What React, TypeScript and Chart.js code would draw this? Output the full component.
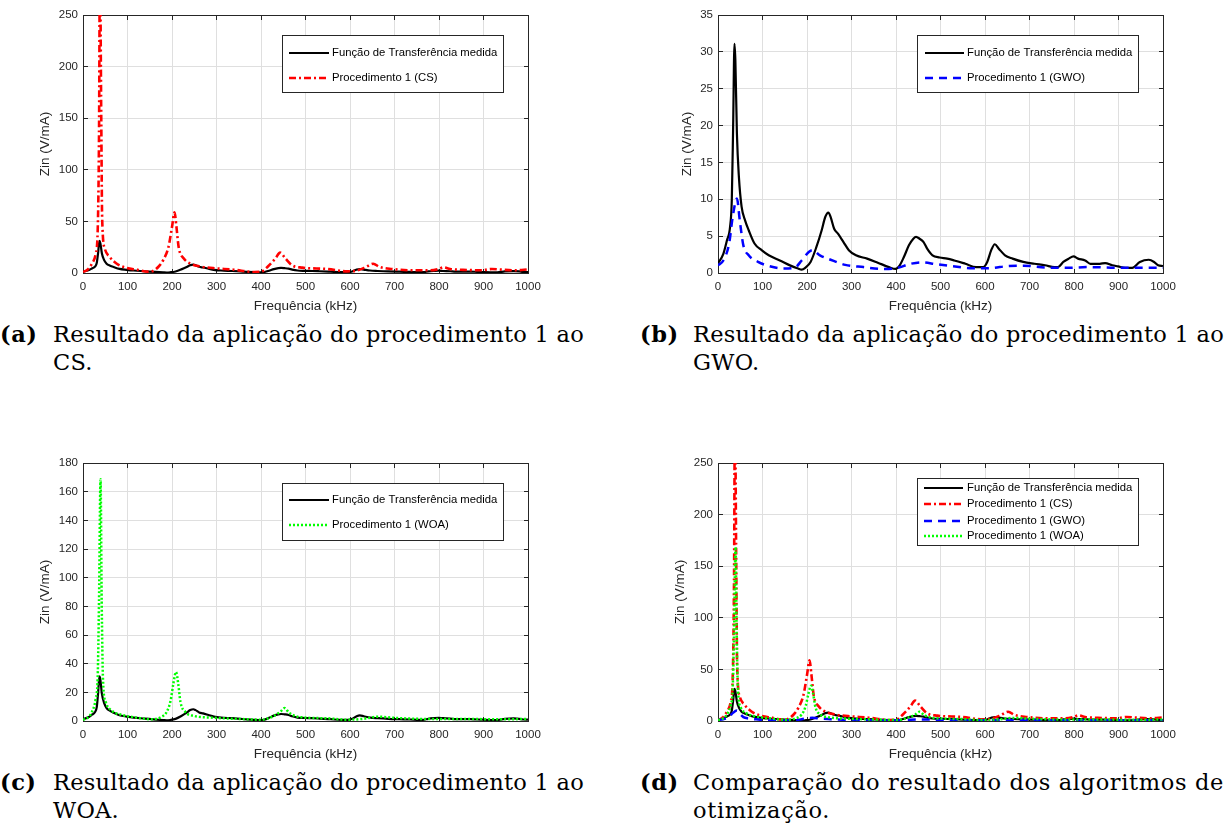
import React, { useEffect, useLayoutEffect, useRef, useState } from "react";
import { Chart, registerables } from "chart.js";

Chart.register(...registerables);

// ---------------- data (kHz / V/mA) ----------------
const measFreq = [0, 12, 20, 27, 31, 34, 37, 39, 42.5, 47, 53, 61, 69, 82, 98, 114, 139, 163, 180, 188, 196, 208, 221, 233, 241, 248, 253, 261, 270, 282, 294, 310, 335, 359, 384, 399, 408, 418, 429, 439, 445, 453, 462, 470, 482, 498, 515, 531, 556, 580, 596, 605, 614, 622, 631, 645, 662, 686, 711, 735, 756, 764, 776, 788, 799, 809, 825, 837, 858, 870, 886, 899, 915, 931, 948, 968, 980, 989, 1000];
const measZin = [1.3, 2.6, 4.4, 6.2, 9.9, 19.8, 31.1, 28.9, 18.9, 13, 9, 7.1, 5.8, 4.0, 3.1, 2.4, 1.7, 1.0, 0.6, 0.45, 0.7, 1.5, 3.5, 5.8, 7.6, 8.2, 7.6, 6.0, 5.3, 4.2, 3.1, 2.4, 1.95, 1.4, 0.8, 0.55, 1.0, 2.2, 3.75, 4.65, 4.9, 4.65, 4.2, 3.3, 2.4, 2.1, 1.95, 1.7, 1.25, 0.8, 0.8, 1.5, 3.1, 3.9, 3.3, 2.4, 1.95, 1.5, 1.25, 1.05, 0.8, 0.8, 1.5, 1.95, 2.25, 1.95, 1.7, 1.25, 1.25, 1.35, 1.05, 0.9, 0.7, 0.7, 1.5, 1.8, 1.5, 1.05, 0.95];

const csFreq = [0, 10, 20, 28.6, 33, 36, 38, 41, 43, 49, 60, 76, 99, 122, 145, 157, 169, 180, 192, 200, 205.7, 210, 215, 227, 242, 261, 292, 339, 385, 401, 416, 432, 443, 455, 470, 493, 548, 594, 617, 636, 652, 667, 694, 741, 780, 800, 810, 825, 864, 896, 919, 942, 973, 1000];
const csZin = [1, 3.2, 9, 18.7, 41, 135, 300, 151, 54, 23.6, 15.5, 9, 4.8, 3.2, 1.3, 1.9, 5.8, 12.3, 25, 44.6, 58.8, 44.6, 25, 13.9, 9, 6.5, 4.8, 3.2, 1.0, 1.3, 6.5, 13.9, 19.7, 13.9, 7.4, 5.2, 3.9, 1.6, 2.6, 5.8, 9, 5.8, 3.9, 2.6, 2.6, 3.9, 5.5, 3.9, 2.9, 2.6, 3.9, 3.2, 2.6, 3.5];

const gwoFreq = [0, 12, 25, 33, 42.5, 49, 57, 69, 90, 114, 147, 172, 188, 204, 212, 229, 253, 286, 327, 368, 400, 433, 457, 490, 523, 572, 605, 654, 686, 735, 784, 833, 899, 1000];
const gwoZin = [1.05, 1.7, 4, 7.6, 10.1, 7.1, 3.75, 2.4, 1.5, 0.95, 0.6, 0.7, 1.7, 2.85, 3.1, 2.4, 1.8, 1.1, 0.8, 0.55, 0.65, 1.25, 1.45, 1.2, 0.95, 0.65, 0.65, 0.95, 1.0, 0.75, 0.7, 0.8, 0.7, 0.7];

const woaFreq = [0, 10, 20, 28.6, 33, 36, 39.4, 42, 45, 51, 64, 91, 122, 153, 176, 188, 197, 203, 209, 214, 219, 230, 250, 292, 354, 401, 424, 443, 453, 463, 486, 548, 594, 626, 665, 695, 780, 857, 934, 1000];
const woaZin = [0.9, 2.1, 6.3, 15.6, 30.7, 84, 168.6, 84, 28.4, 13.3, 7.4, 4, 2.3, 1.2, 2.8, 6.3, 14.4, 26, 34.2, 26, 13.3, 6.3, 3.5, 2.3, 1.4, 0.9, 2.8, 6.3, 9, 5.8, 2.8, 1.9, 0.9, 1.4, 3, 2.3, 1.4, 1.4, 1.2, 1.4];

const X_MIN = 0;
const X_MAX = 1000;
const X_STEP = 100;
const X_TITLE = "Frequência (kHz)";
const Y_TITLE = "Zin (V/mA)";

const LABELS = {
  meas: "Função de Transferência medida",
  cs: "Procedimento 1 (CS)",
  gwo: "Procedimento 1 (GWO)",
  woa: "Procedimento 1 (WOA)",
};

const CAPTION_REPEAT = "Resultado da aplicação do procedimento 1 ao";
const CAPTION_D = "Comparação do resultado dos algoritmos de";

// ---------------- styles ----------------
type Key = "meas" | "cs" | "gwo" | "woa";
const SERIES: Record<Key, { freq: number[]; zin: number[] }> = {
  meas: { freq: measFreq, zin: measZin },
  cs: { freq: csFreq, zin: csZin },
  gwo: { freq: gwoFreq, zin: gwoZin },
  woa: { freq: woaFreq, zin: woaZin },
};
const STYLE: Record<Key, { color: string; width: number; dash: number[]; order: number }> = {
  meas: { color: "#000000", width: 2.2, dash: [], order: 3 },
  cs: { color: "#ff0000", width: 2.6, dash: [7, 3, 2, 3], order: 2 },
  gwo: { color: "#0000ff", width: 2.5, dash: [8, 6], order: 1 },
  woa: { color: "#00ff00", width: 2.5, dash: [2, 2], order: 0 },
};

const SANS = "'Liberation Sans', Arial, Helvetica, sans-serif";
const SERIF = "'DejaVu Serif', serif";
const AXIS_COLOR = "#262626";
const GRID_COLOR = "#dfdfdf";
const TICK_SIZE = 11.5;
const TITLE_SIZE = 13.5;
const LEGEND_SIZE = 11.3;
const CAP_SIZE = 22.5;
const CAP_LINE = 28;
const CAP_INDENT = 53;
const CAP_WIDTH = 531;

type Rect = { x: number; y: number; w: number; h: number };
interface PanelSpec {
  tag: string;
  canvas: Rect;
  plot: { l: number; t: number; r: number; b: number };
  yMax: number;
  yStep: number;
  series: Key[];
  legend: { box: Rect; rows: number[]; sampleX: [number, number]; textX: number };
  yTitleX: number;
  caption: { x: number; y: number; lines: [string, string] };
}

const PANELS: PanelSpec[] = [
  {
    tag: "(a)",
    canvas: { x: 20, y: 0, w: 540, h: 315 },
    plot: { l: 83, t: 15, r: 528, b: 273 },
    yMax: 250, yStep: 50, series: ["meas", "cs"],
    legend: { box: { x: 282, y: 35, w: 222, h: 58 }, rows: [53, 78], sampleX: [289, 329], textX: 332 },
    yTitleX: 45,
    caption: { x: 0, y: 320, lines: [CAPTION_REPEAT, "CS."] },
  },
  {
    tag: "(b)",
    canvas: { x: 650, y: 0, w: 540, h: 315 },
    plot: { l: 718, t: 15, r: 1163, b: 273 },
    yMax: 35, yStep: 5, series: ["meas", "gwo"],
    legend: { box: { x: 917, y: 35, w: 222, h: 58 }, rows: [53, 78], sampleX: [925, 964], textX: 967 },
    yTitleX: 687,
    caption: { x: 640, y: 320, lines: [CAPTION_REPEAT, "GWO."] },
  },
  {
    tag: "(c)",
    canvas: { x: 20, y: 448, w: 540, h: 315 },
    plot: { l: 83, t: 463, r: 528, b: 721 },
    yMax: 180, yStep: 20, series: ["meas", "woa"],
    legend: { box: { x: 282, y: 483, w: 222, h: 58 }, rows: [500, 525], sampleX: [289, 329], textX: 332 },
    yTitleX: 45,
    caption: { x: 0, y: 768, lines: [CAPTION_REPEAT, "WOA."] },
  },
  {
    tag: "(d)",
    canvas: { x: 650, y: 448, w: 540, h: 315 },
    plot: { l: 718, t: 463, r: 1163, b: 721 },
    yMax: 250, yStep: 50, series: ["meas", "cs", "gwo", "woa"],
    legend: { box: { x: 917, y: 478, w: 222, h: 68 }, rows: [488, 504, 521, 536], sampleX: [924, 963], textX: 967 },
    yTitleX: 680,
    caption: { x: 640, y: 768, lines: [CAPTION_D, "otimização."] },
  },
];

function align(px: number) {
  return Math.round(px - 0.5) + 0.5;
}

function Panel({ spec }: { spec: PanelSpec }) {
  const ref = useRef<HTMLCanvasElement>(null);
  useEffect(() => {
    if (!ref.current) return;
    const c = spec.canvas;
    const p = spec.plot;
    const yAxisW = p.l - c.x;
    const xAxisH = c.y + c.h - p.b;
    const padTop = p.t - c.y;
    const padRight = c.x + c.w - p.r;
    const titleLH = TITLE_SIZE * 1.2;
    const yTitlePad = spec.yTitleX - c.x - titleLH / 2;
    const xTitleCenter = p.b + 33;
    const xTitlePad = c.y + c.h - xTitleCenter - titleLH / 2;

    const frame = {
      id: "frame",
      beforeDatasetsDraw(chart: any) {
        const { ctx, chartArea: a, scales } = chart;
        ctx.save();
        ctx.strokeStyle = AXIS_COLOR;
        ctx.lineWidth = 1;
        ctx.setLineDash([]);
        const L = align(a.left), R = align(a.right), T = align(a.top), B = align(a.bottom);
        const tl = 4.5;
        ctx.beginPath();
        scales.x.ticks.forEach((t: any) => {
          const px = align(scales.x.getPixelForValue(t.value));
          ctx.moveTo(px, B); ctx.lineTo(px, B - tl);
          ctx.moveTo(px, T); ctx.lineTo(px, T + tl);
        });
        scales.y.ticks.forEach((t: any) => {
          const py = align(scales.y.getPixelForValue(t.value));
          ctx.moveTo(L, py); ctx.lineTo(L + tl, py);
          ctx.moveTo(R, py); ctx.lineTo(R - tl, py);
        });
        ctx.stroke();
        ctx.strokeRect(L, T, R - L, B - T);
        ctx.restore();
      },
    };

    const legend = {
      id: "boxLegend",
      afterDatasetsDraw(chart: any) {
        const ctx = chart.ctx;
        const ox = c.x, oy = c.y;
        const b = spec.legend.box;
        ctx.save();
        ctx.fillStyle = "#ffffff";
        ctx.fillRect(b.x - ox, b.y - oy, b.w, b.h);
        ctx.strokeStyle = AXIS_COLOR;
        ctx.lineWidth = 1;
        ctx.setLineDash([]);
        ctx.strokeRect(b.x - ox + 0.5, b.y - oy + 0.5, b.w - 1, b.h - 1);
        spec.series.forEach((k, i) => {
          const st = STYLE[k];
          const y = spec.legend.rows[i] - oy;
          ctx.strokeStyle = st.color;
          ctx.lineWidth = st.width;
          ctx.setLineDash(st.dash);
          ctx.beginPath();
          ctx.moveTo(spec.legend.sampleX[0] - ox, y);
          ctx.lineTo(spec.legend.sampleX[1] - ox, y);
          ctx.stroke();
          ctx.setLineDash([]);
          ctx.fillStyle = "#000000";
          ctx.font = `${LEGEND_SIZE}px ${SANS}`;
          ctx.textBaseline = "middle";
          ctx.textAlign = "left";
          ctx.fillText(LABELS[k], spec.legend.textX - ox, y);
        });
        ctx.restore();
      },
    };

    const chart = new Chart(ref.current, {
      type: "line",
      data: {
        datasets: spec.series.map((k) => ({
          label: LABELS[k],
          data: SERIES[k].freq.map((f, i) => ({ x: f, y: SERIES[k].zin[i] })),
          borderColor: STYLE[k].color,
          borderWidth: STYLE[k].width,
          borderDash: STYLE[k].dash,
          order: STYLE[k].order,
          pointRadius: 0,
          fill: false,
          cubicInterpolationMode: "monotone" as const,
        })),
      },
      options: {
        animation: false,
        responsive: false,
        maintainAspectRatio: false,
        devicePixelRatio: 1,
        events: [],
        layout: { padding: { top: padTop, right: padRight, left: 0, bottom: 0 } },
        plugins: { legend: { display: false }, tooltip: { enabled: false } },
        scales: {
          x: {
            type: "linear",
            min: X_MIN,
            max: X_MAX,
            ticks: {
              stepSize: X_STEP, color: AXIS_COLOR, font: { family: SANS, size: TICK_SIZE }, padding: 7,
              maxRotation: 0, autoSkip: false, callback: (v: any) => String(v),
            },
            grid: { color: GRID_COLOR, drawTicks: false, lineWidth: 1 },
            border: { display: false },
            title: { display: true, text: X_TITLE, color: AXIS_COLOR, font: { family: SANS, size: TITLE_SIZE }, padding: { top: 0, bottom: xTitlePad } },
            afterFit: (s: any) => { s.height = xAxisH; },
          },
          y: {
            type: "linear",
            min: 0,
            max: spec.yMax,
            ticks: { stepSize: spec.yStep, color: AXIS_COLOR, font: { family: SANS, size: TICK_SIZE }, padding: 5, callback: (v: any) => String(v) },
            grid: { color: GRID_COLOR, drawTicks: false, lineWidth: 1 },
            border: { display: false },
            title: { display: true, text: Y_TITLE, color: AXIS_COLOR, font: { family: SANS, size: TITLE_SIZE }, padding: { top: yTitlePad, bottom: 0 } },
            afterFit: (s: any) => { s.width = yAxisW; },
          },
        },
      },
      plugins: [frame, legend],
    } as any);
    return () => chart.destroy();
  }, [spec]);

  const c = spec.canvas;
  return (
    <canvas
      ref={ref}
      width={c.w}
      height={c.h}
      style={{ position: "absolute", left: c.x, top: c.y, width: c.w, height: c.h }}
    />
  );
}

function Caption({ spec }: { spec: PanelSpec }) {
  const firstRef = useRef<HTMLSpanElement>(null);
  const [ls, setLs] = useState(0);
  useLayoutEffect(() => {
    const el = firstRef.current;
    if (!el) return;
    const w = el.getBoundingClientRect().width;
    setLs((CAP_WIDTH - w) / spec.caption.lines[0].length);
  }, [spec]);
  const cap = spec.caption;
  return (
    <div
      style={{
        position: "absolute",
        left: cap.x,
        top: cap.y,
        fontFamily: SERIF,
        fontSize: CAP_SIZE,
        lineHeight: `${CAP_LINE}px`,
        color: "#000",
        whiteSpace: "nowrap",
      }}
    >
      <span style={{ position: "absolute", left: 0, top: 0, fontWeight: "bold", letterSpacing: 0.5 }}>{spec.tag}</span>
      <div style={{ position: "absolute", left: CAP_INDENT, top: 0, letterSpacing: ls }}>
        <div>
          <span ref={firstRef}>{cap.lines[0]}</span>
        </div>
        <div>{cap.lines[1]}</div>
      </div>
    </div>
  );
}

export default function App() {
  return (
    <div
      style={{
        position: "absolute",
        left: 0,
        top: 0,
        width: 1230,
        height: 823,
        background: "#ffffff",
        overflow: "hidden",
      }}
    >
      {PANELS.map((p) => (
        <Panel key={p.tag} spec={p} />
      ))}
      {PANELS.map((p) => (
        <Caption key={"c" + p.tag} spec={p} />
      ))}
    </div>
  );
}
